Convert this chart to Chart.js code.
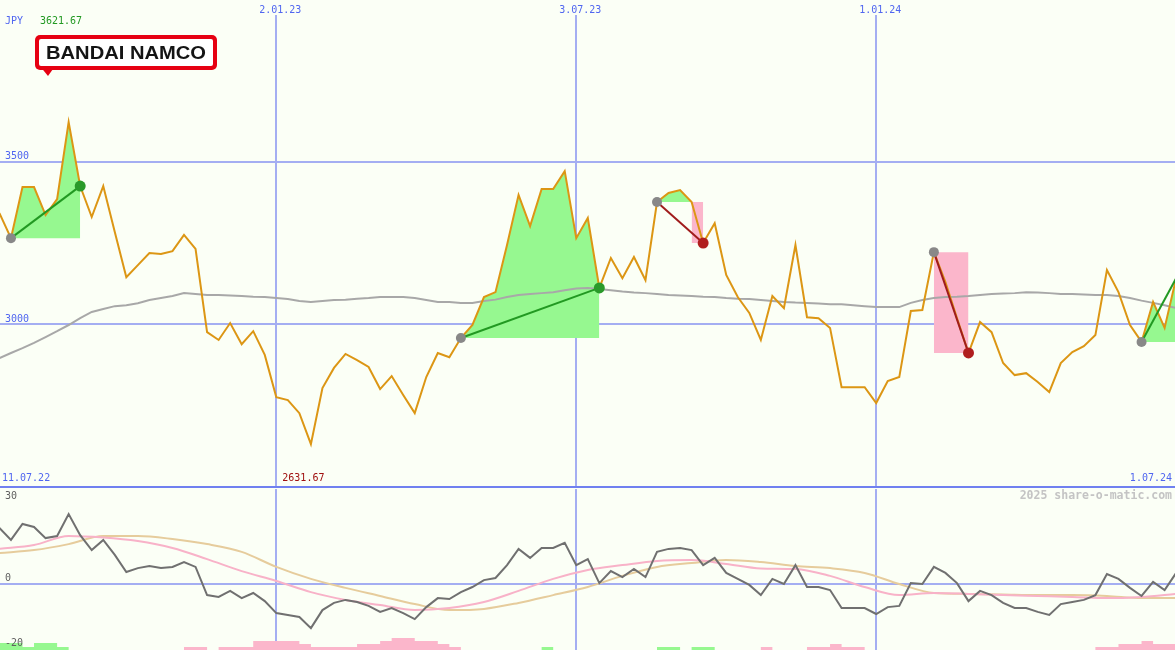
<!DOCTYPE html>
<html>
<head>
<meta charset="utf-8">
<script src="https://cdn.jsdelivr.net/npm/chart.js@4.4.1/dist/chart.umd.min.js"></script>
<style>
html, body { margin: 0; padding: 0; background: #fbfff6; }
#wrap { position: relative; width: 1175px; height: 650px; background: #fbfff6; overflow: hidden; }
#priceChart { position: absolute; left: 0; top: 0; }
#sep { position: absolute; left: 0; top: 486px; width: 1175px; height: 2px; background: #7080f0; }
#oscChart { position: absolute; left: 0; top: 489px; }
</style>
</head>
<body>
<div id="wrap">
  <canvas id="priceChart" width="1175" height="487"></canvas>
  <div id="sep"></div>
  <canvas id="oscChart" width="1175" height="161"></canvas>
</div>
<script>
Chart.defaults.font.family = '"DejaVu Sans Mono", monospace';
Chart.defaults.font.size = 10;

// x positions are week numbers (0 = first week on the left)
const dateTicks = [24, 50, 76];
const dateLabels = ['2.01.23', '3.07.23', '1.01.24'];
const startDate = '11.07.22';
const endDate = '1.07.24';

// weekly close, JPY
const price = [3342,3265,3422,3422,3336,3385,3621.67,3425,3330,3425,
  3284,3145,3182,3219,3216,3225,3275,3232,2976,2952,
  3004,2939,2979,2906,2776,2767,2727,2631.67,2804,2866,
  2909,2890,2869,2801,2841,2783,2727,2838,2912,2899,
  2958,2998,3084,3099,3244,3398,3302,3416,3416,3471,
  3265,3327,3112,3204,3142,3207,3136,3376,3404,3413,
  3376,3250,3311,3152,3084,3035,2952,3087,3050,3244,
  3022,3019,2989,2807,2807,2807,2758,2826,2838,3041,
  3044,3222,3130,3019,2912,3007,2976,2881,2844,2850,
  2823,2792,2881,2915,2933,2967,3167,3099,2998,2946,
  3069,2989,3142];

// grey moving average
const avg = [2896,2912,2927,2943,2961,2979,2998,3019,3038,3047,
  3056,3059,3065,3075,3081,3087,3096,3093,3090,3090,
  3089,3087,3085,3084,3081,3078,3072,3069,3072,3075,
  3076,3079,3081,3084,3084,3084,3081,3075,3069,3069,
  3066,3066,3072,3076,3084,3090,3093,3096,3099,3105,
  3110,3112,3109,3105,3101,3098,3096,3093,3090,3089,
  3087,3085,3084,3081,3079,3078,3075,3072,3069,3067,
  3066,3064,3062,3062,3059,3056,3053,3053,3053,3066,
  3075,3081,3084,3085,3087,3090,3093,3095,3096,3099,
  3098,3096,3093,3093,3092,3090,3090,3087,3081,3073,
  3066,3059,3050];

// signals: start week and end week
const sigStart = [1, 40, 57, 81, 99];
const sigEnd = [7, 52, 61, 84, 102];

// lower panel
const osc = [18.7,14.7,20,19,15.3,16,23.3,16.3,11.3,14.7,
  9.7,4,5.3,6,5.3,5.7,7.3,5.7,-3.7,-4.3,
  -2.3,-4.7,-3,-5.7,-9.7,-10.3,-11,-14.7,-8.7,-6.3,
  -5.3,-6,-7.3,-9.3,-8,-9.7,-11.7,-7.7,-4.7,-5,
  -2.7,-1,1.3,2,6.3,11.7,8.7,12,12,13.7,
  6.3,8.3,0.3,4.3,2.3,5,2.3,10.7,11.7,12,
  11.3,6.3,8.7,3.7,1.7,-0.3,-3.7,1.7,0,6.3,
  -1,-1,-2,-8,-8,-8,-10,-7.7,-7.3,0.3,
  0,5.7,3.7,0.3,-5.7,-2.3,-3.7,-6.3,-8,-8,
  -9.3,-10.3,-6.7,-6,-5.3,-3.7,3.3,1.7,-1.3,-4,
  0.7,-2,3.7];
const smoothX = [0,3,6,9,12,15,18,21,24,27,30,33,36,39,42,45,48,51,54,57,60,63,66,69,72,75,78,81,84,87,90,93,96,99,102];
const pinkLine = [11.7,13,16,15.5,14.3,12,8.3,4.3,1,-2.7,-5.3,-7,-8.7,-8,-6,-2.3,1.7,4.7,6.3,7.7,8,6.7,5.2,5,2.7,-1,-3.7,-3,-3.3,-3.7,-4,-4.3,-4.7,-4.3,-3.3];
const tanLine = [10.3,11.3,13.3,16,16,15,13.3,10.7,5.7,1.7,-1.3,-4,-6.7,-8.7,-8.3,-6.3,-3.7,-1,2.7,5.7,7,8,7.3,6,5.3,3.7,0,-3,-3.3,-3.5,-3.7,-3.7,-4,-4.7,-4.7];
const hist = [7,7,7,3,7,7,3,0,0,0,
  0,0,0,0,0,0,0,-3,-3,0,
  -3,-3,-3,-9,-9,-9,-9,-6,-3,-3,
  -3,-3,-6,-6,-9,-12,-12,-9,-9,-6,
  -3,0,0,0,0,0,0,0,3,0,
  0,0,0,0,0,0,0,0,3,3,
  0,3,3,0,0,0,0,-3,0,0,
  0,-3,-3,-6,-3,-3,0,0,0,0,
  0,0,0,0,0,0,0,0,0,0,
  0,0,0,0,0,0,-3,-3,-6,-6,
  -9,-6];

const gridBlue = '#a4aef2';
const textBlue = '#5066f0';
const xMin = 0.05, xMax = 101.9;

function drawLogo(c) {
  c.fillStyle = '#e60012';
  c.beginPath(); c.roundRect(35, 35, 182, 35, 5); c.fill();
  c.beginPath(); c.moveTo(35, 60); c.lineTo(53, 69); c.lineTo(48, 76); c.closePath(); c.fill();
  c.fillStyle = '#ffffff';
  c.beginPath(); c.roundRect(39, 39, 174, 27, 2); c.fill();
  c.fillStyle = '#141414';
  c.font = 'bold 19px "Liberation Sans", Arial, sans-serif';
  c.textAlign = 'center';
  c.textBaseline = 'alphabetic';
  let w = c.measureText('BANDAI NAMCO').width;
  c.save();
  c.translate(126, 58.5);
  c.scale(160 / w, 1);
  c.fillText('BANDAI NAMCO', 0, 0);
  c.restore();
}

const topTexts = {
  id: 'topTexts',
  afterDraw(chart) {
    const c = chart.ctx, xs = chart.scales.x;
    c.save();
    c.font = '10px "DejaVu Sans Mono"';
    c.textBaseline = 'middle';
    c.textAlign = 'left';
    c.fillStyle = textBlue;
    c.fillText('JPY', 5, 21.5);
    c.fillStyle = '#229922';
    c.fillText(Math.max(...price).toFixed(2), 40, 21.5);
    c.fillStyle = textBlue;
    c.fillText(startDate, 2, 478);
    c.fillStyle = '#a01010';
    c.fillText(Math.min(...price).toFixed(2), xs.getPixelForValue(dateTicks[0]) + 6, 478);
    c.textAlign = 'right';
    c.fillStyle = textBlue;
    c.fillText(endDate, 1172, 478);
    drawLogo(c);
    c.restore();
  }
};

const oscTexts = {
  id: 'oscTexts',
  afterDraw(chart) {
    const c = chart.ctx, ys = chart.scales.y;
    c.save();
    c.font = '10px "DejaVu Sans Mono"';
    c.textBaseline = 'middle';
    c.fillStyle = '#606060';
    c.fillText('30', 5, 7);
    c.fillText('0', 5, ys.getPixelForValue(0) - 6);
    c.fillText('-20', 5, 154);
    c.font = 'bold 11.5px "DejaVu Sans Mono"';
    c.fillStyle = '#c4c4c4';
    c.textAlign = 'right';
    c.fillText('2025 share-o-matic.com', 1172, 7);
    c.restore();
  }
};

// price panel datasets
let ds = [];
ds.push({ data: price.map((p, i) => ({ x: i, y: p })), borderColor: '#dc9614', borderWidth: 2, pointRadius: 0, order: 3 });
ds.push({ data: avg.map((p, i) => ({ x: i, y: p })), borderColor: '#a8a8a8', borderWidth: 2, pointRadius: 0, order: 4 });

sigStart.forEach(function(s, n) {
  let e = sigEnd[n];
  let base = price[s];
  let up = price[e] >= base;
  let k = e;
  if (!up) {
    k = s;
    for (let i = s; i <= e; i++) if (price[i] >= base) k = i;
  }
  if (k > s) {
    ds.push({ data: price.slice(s, k + 1).map((p, j) => ({ x: s + j, y: p })), fill: { value: base },
      backgroundColor: '#96f890', borderWidth: 0, pointRadius: 0, order: 6 });
  }
  if (k < e) {
    ds.push({ data: [{ x: k, y: base }, { x: e, y: base }], fill: { value: price[e] },
      backgroundColor: '#fbb6cb', borderWidth: 0, pointRadius: 0, order: 6 });
  }
  ds.push({ data: [{ x: s, y: base }, { x: e, y: price[e] }], borderColor: up ? '#229922' : '#a01c1c',
    borderWidth: 2, pointRadius: 0, order: 2 });
  ds.push({ data: [{ x: s, y: base }], showLine: false, pointRadius: 5, pointBackgroundColor: '#888888', pointBorderWidth: 0, order: 1 });
  if (e < price.length - 1) {
    ds.push({ data: [{ x: e, y: price[e] }], showLine: false, pointRadius: 5.5,
      pointBackgroundColor: up ? '#2a9a2a' : '#b01e1e', pointBorderWidth: 0, order: 1 });
  }
});

new Chart(document.getElementById('priceChart'), {
  type: 'line',
  data: { datasets: ds },
  options: {
    responsive: false,
    devicePixelRatio: 1,
    animation: false,
    layout: { padding: 0, autoPadding: false },
    plugins: { legend: { display: false }, tooltip: { enabled: false } },
    scales: {
      x: {
        type: 'linear', position: 'top', min: xMin, max: xMax, offset: false,
        afterBuildTicks: s => { s.ticks = dateTicks.map(v => ({ value: v })); },
        afterFit: s => { s.height = 15; s.paddingLeft = 0; s.paddingRight = 0; },
        grid: { color: gridBlue, lineWidth: 2, drawTicks: false, offset: false },
        border: { display: false },
        ticks: { color: textBlue, padding: -1, labelOffset: 4, maxRotation: 0, autoSkip: false,
          callback: v => dateLabels[dateTicks.indexOf(v)] }
      },
      y: {
        min: 2500, max: 3951,
        afterBuildTicks: s => { s.ticks = [{ value: 3000 }, { value: 3500 }]; },
        afterFit: s => { s.width = 0; s.paddingTop = 0; s.paddingBottom = 0; },
        grid: { color: gridBlue, lineWidth: 2, drawTicks: false },
        border: { display: false },
        ticks: { mirror: true, padding: 5, labelOffset: -5, color: textBlue, callback: v => String(v) }
      }
    }
  },
  plugins: [topTexts]
});

// histogram as stepped filled lines (each value holds for one week)
const histX = hist.map((v, i) => i).concat([hist.length]);
const histUp = hist.map(v => v > 0 ? v : 0);
const histDown = hist.map(v => v < 0 ? -v : 0);

new Chart(document.getElementById('oscChart'), {
  type: 'line',
  data: {
    datasets: [
      { data: histX.map((x, j) => ({ x: x, y: histUp[Math.min(j, histUp.length - 1)] })), stepped: 'after',
        fill: 'origin', backgroundColor: '#96f890', borderWidth: 0, pointRadius: 0, yAxisID: 'yh', order: 5 },
      { data: histX.map((x, j) => ({ x: x, y: histDown[Math.min(j, histDown.length - 1)] })), stepped: 'after',
        fill: 'origin', backgroundColor: '#fbb6cb', borderWidth: 0, pointRadius: 0, yAxisID: 'yh', order: 5 },
      { data: tanLine.map((v, j) => ({ x: smoothX[j], y: v })), borderColor: '#e6cc9c', borderWidth: 2, pointRadius: 0,
        cubicInterpolationMode: 'monotone', order: 3 },
      { data: pinkLine.map((v, j) => ({ x: smoothX[j], y: v })), borderColor: '#f8b2c8', borderWidth: 2, pointRadius: 0,
        cubicInterpolationMode: 'monotone', order: 2 },
      { data: osc.map((v, i) => ({ x: i, y: v })), borderColor: '#707070', borderWidth: 2, pointRadius: 0, order: 1 }
    ]
  },
  options: {
    responsive: false,
    devicePixelRatio: 1,
    animation: false,
    layout: { padding: 0, autoPadding: false },
    plugins: { legend: { display: false }, tooltip: { enabled: false } },
    scales: {
      x: {
        type: 'linear', min: xMin, max: xMax, offset: false,
        afterBuildTicks: s => { s.ticks = dateTicks.map(v => ({ value: v })); },
        afterFit: s => { s.height = 0; },
        grid: { color: gridBlue, lineWidth: 2, drawTicks: false, offset: false },
        border: { display: false },
        ticks: { display: false }
      },
      y: {
        min: -22, max: 31.67,
        afterBuildTicks: s => { s.ticks = [{ value: 0 }]; },
        afterFit: s => { s.width = 0; },
        grid: { color: gridBlue, lineWidth: 2, drawTicks: false },
        border: { display: false },
        ticks: { display: false }
      },
      yh: { type: 'linear', min: 0, max: 161, display: false }
    }
  },
  plugins: [oscTexts]
});
</script>
</body>
</html>
